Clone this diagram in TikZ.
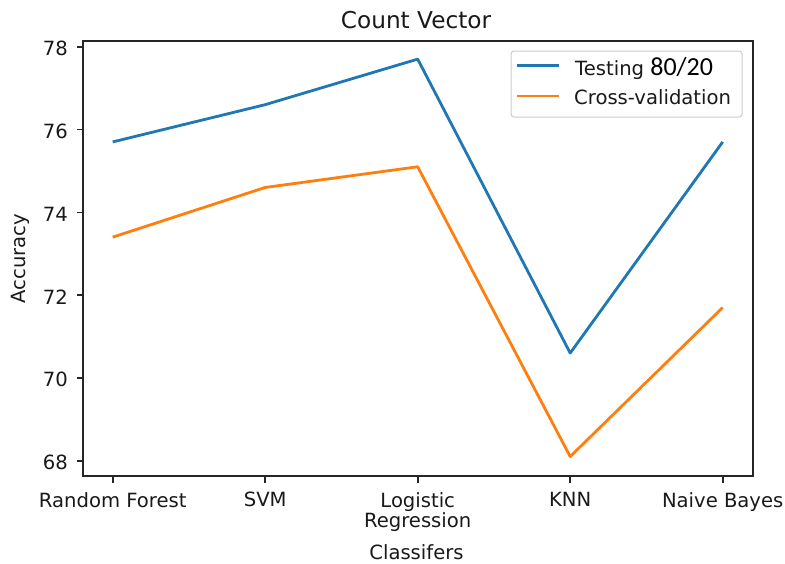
\documentclass[tikz,border=0pt]{standalone}
\usepackage{fontspec}
\setmainfont{DejaVu Sans}
\newfontfamily\carlito{Carlito}
\definecolor{mplblue}{HTML}{1F77B4}
\definecolor{mplorange}{HTML}{FF7F0E}
\begin{document}
\begin{tikzpicture}[x=1pt,y=-1pt,
  spine/.style={line width=1.6pt, black!85},
  tickmark/.style={line width=1.6pt, black!85},
  ticklab/.style={font=\fontsize{19.6}{20.5}\selectfont, text=black!90, inner sep=0pt},
  series/.style={line width=2.8pt, line join=round},
  legendbox/.style={draw=black!20, line width=1pt, fill=white, rounded corners=3pt}
]
\useasboundingbox (0,0) rectangle (785,563);

% axes frame
\coordinate (ax-tl) at (83,41);
\coordinate (ax-br) at (753,476);
\draw[spine] (ax-tl) rectangle (ax-br);

% y ticks
\foreach \v in {68,70,72,74,76,78} {
  \coordinate (yt\v) at (83,{460.7-41.4*(\v-68)});
  \coordinate (ytl\v) at (77,{460.7-41.4*(\v-68)});
  \draw[tickmark] (ytl\v) -- (yt\v);
  \node[ticklab, anchor=east] (ylab\v) at (68,{462.5-41.4*(\v-68)}) {\v};
}

% x ticks
\foreach \i/\name in {0/rf,1/svm,2/lr,3/knn,4/nb} {
  \coordinate (xt\name) at ({112.7+152.5*\i},476);
  \coordinate (xtb\name) at ({112.7+152.5*\i},483);
  \draw[tickmark] (xt\name) -- (xtb\name);
}
\node[ticklab, anchor=north] (xlabrf) at (112.7,492) {Random Forest};
\node[ticklab, anchor=north] (xlabsvm) at (265.2,492) {SVM};
\node[ticklab, anchor=north, align=center] (xlablr) at (417.7,492) {Logistic\\Regression};
\node[ticklab, anchor=north] (xlabknn) at (570.2,492) {KNN};
\node[ticklab, anchor=north] (xlabnb) at (722.7,492) {Naive Bayes};

% axis labels and title
\node[ticklab, anchor=base] (xaxlab) at (416.5,559.5) {Classifers};
\node[ticklab, rotate=90, anchor=center] (yaxlab) at (20,258.5) {Accuracy};
\node[ticklab, anchor=base, font=\fontsize{23.2}{27}\selectfont] (title) at (416,28) {Count Vector};

% data points
\foreach \i/\t/\c in {1/75.7/73.4, 2/76.6/74.6, 3/77.7/75.1, 4/70.6/68.1, 5/75.7/71.7} {
  \coordinate (t\i) at ({112.7+152.5*(\i-1)},{460.7-41.4*(\t-68)});
  \coordinate (c\i) at ({112.7+152.5*(\i-1)},{460.7-41.4*(\c-68)});
}
\draw[series, mplblue] (t1) -- (t2) -- (t3) -- (t4) -- (t5);
\draw[series, mplorange] (c1) -- (c2) -- (c3) -- (c4) -- (c5);

% legend
\coordinate (lg-tl) at (511,51);
\coordinate (lg-br) at (742,117);
\draw[legendbox] (lg-tl) rectangle (lg-br);
\coordinate (lb1a) at (517,65.5);
\coordinate (lb1b) at (559,65.5);
\coordinate (lb2a) at (517,96);
\coordinate (lb2b) at (559,96);
\draw[series, mplblue] (lb1a) -- (lb1b);
\draw[series, mplorange] (lb2a) -- (lb2b);
\node[ticklab, anchor=base west] (lgt1) at (575,75) {Testing {\carlito\fontsize{26}{30}\selectfont\color{black} 80/20}};
\node[ticklab, anchor=base west] (lgt2) at (574,104.5) {Cross-validation};
\end{tikzpicture}
\end{document}
